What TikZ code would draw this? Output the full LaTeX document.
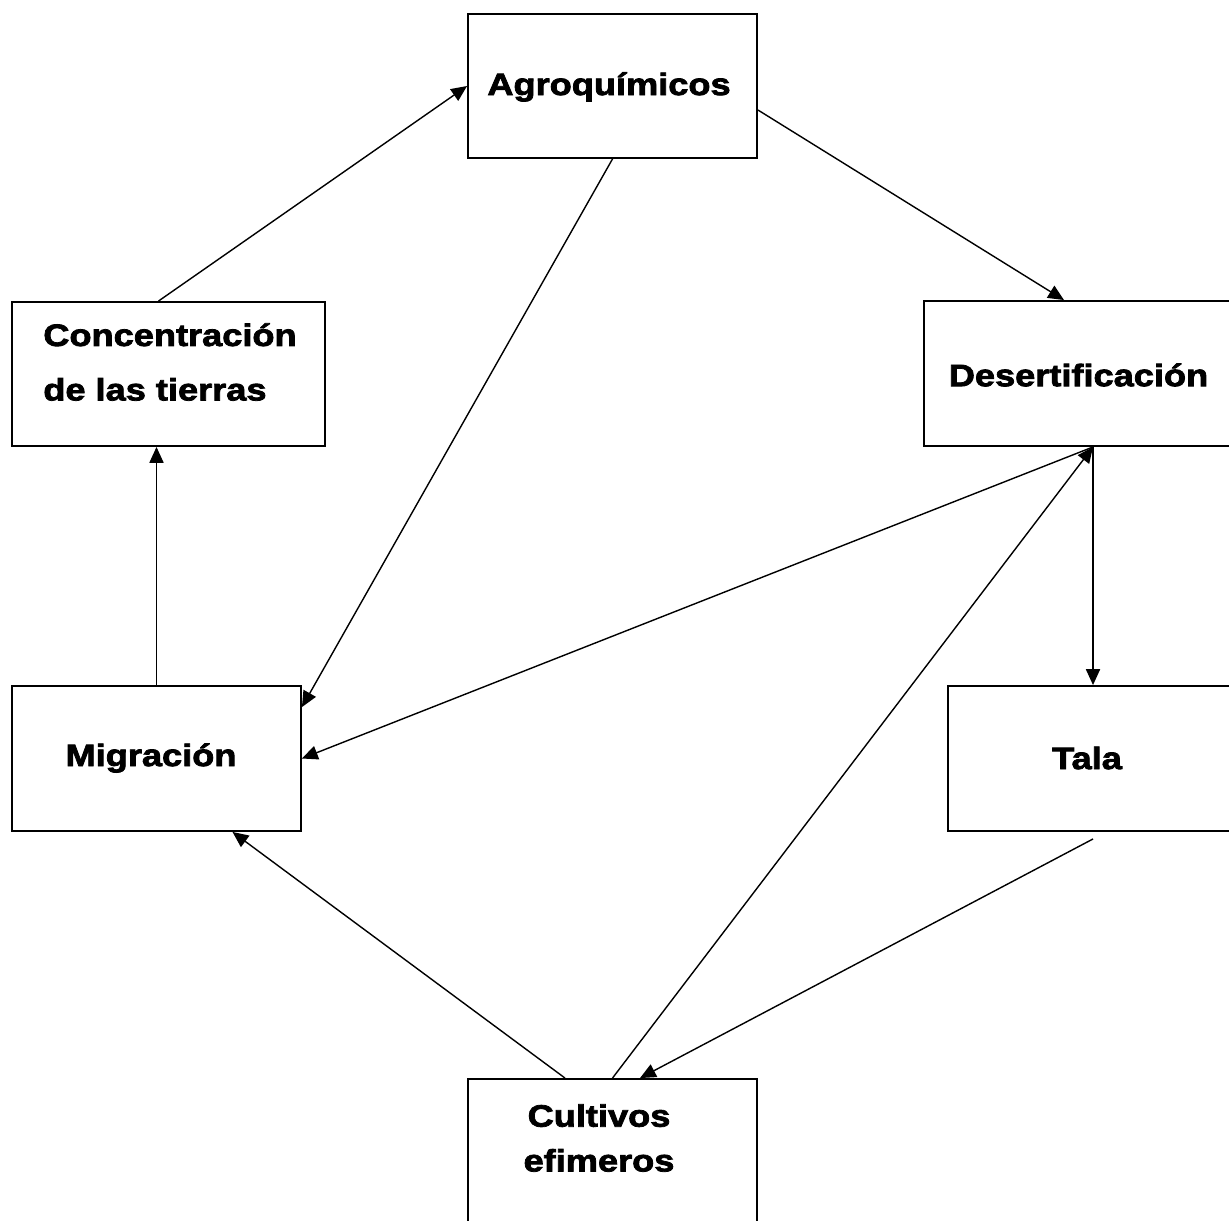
\documentclass[tikz,border=0pt]{standalone}
\usepackage{fontspec}
\usetikzlibrary{calc,arrows.meta}
\newfontfamily\boxfont{Liberation Sans}[UprightFont={* Bold},FakeStretch=1.17,FakeBold=2.5]
\tikzset{
	box/.style={draw,line width=1.1pt,minimum width=5.78cm,minimum height=2.9cm,inner sep=0pt},
	lbl/.style={inner sep=0pt,font=\boxfont\fontsize{17.6}{20}\selectfont},
	arr/.style={line width=0.8pt,-{Triangle[length=9pt,width=8pt]}}
}
\begin{document}
\begin{tikzpicture}[x=0.02cm,y=-0.02cm]
		\useasboundingbox (0,0) rectangle (1229,1220);
		\clip (0,0) rectangle (1229,1220);
		% boxes
		\node[box,minimum height=2.88cm] (agro) at (612.5,86) {};
		\node[box,minimum width=6.26cm,minimum height=2.88cm] (concen) at (168.5,374) {};
		\node[box,minimum width=6.24cm] (deser) at (1080,373.5) {};
		\node[box] (migra) at (156.5,758.5) {};
		\node[box,minimum width=5.84cm] (tala) at (1094,758.5) {};
		\node[box,minimum height=3.22cm] (cultivo) at (612.5,1159.5) {};
		% labels
		\node[lbl] (tagro) at (609,87) {Agroquímicos};
		\node[lbl,anchor=west,align=left,font=\boxfont\fontsize{17.6}{31}\selectfont] (tconcen) at (43,362) {Concentración\\de las tierras};
		\node[lbl] (tdeser) at (1078.5,375) {Desertificación};
		\node[lbl] (tmigra) at (151,758) {Migración};
		\node[lbl] (ttala) at (1087,758) {Tala};
		\node[lbl,align=center,font=\boxfont\fontsize{17.6}{25.5}\selectfont] (tcultivo) at (599,1138) {Cultivos\\efimeros};
		% arrows
		\coordinate (dfoot) at ($(deser.south)+(13,0)$);
		\coordinate (tfoot) at ($(tala.south)+(-1,7)$);
		\draw[arr] ($(concen.north)+(-10,0)$) -- (agro.west);
		\draw[arr] ($(agro.east)+(0,24)$) -- ($(deser.north)+(-16,0)$);
		\draw[arr] (agro.south) -- ($(migra.north east)+(0,22)$);
		\draw[arr] (dfoot) -- (migra.east);
		\draw[arr] (dfoot) -- ($(tala.north)+(-1,0)$);
		\draw[arr] (tfoot) -- ($(cultivo.north)+(27.5,0)$);
		\draw[arr] ($(cultivo.north)+(-47.5,0)$) -- ($(migra.south)+(76,0)$);
		\draw[arr] (cultivo.north) -- (dfoot);
		\draw[arr] (migra.north) -- (migra.north|-concen.south);
		\end{tikzpicture}
\end{document}
